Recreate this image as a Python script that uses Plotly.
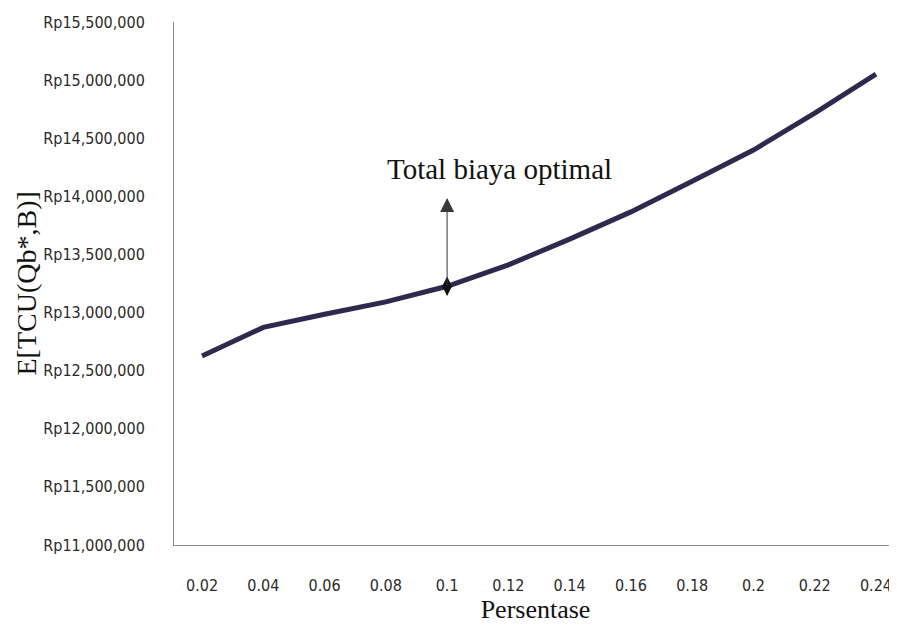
import plotly.graph_objects as go

# Data
persentase = [0.02, 0.04, 0.06, 0.08, 0.10, 0.12, 0.14, 0.16, 0.18, 0.20, 0.22, 0.24]
total_biaya = [12626000, 12872000, 12985000, 13092000, 13226000, 13410000,
               13632000, 13866000, 14130000, 14398000, 14716000, 15052000]
x_tick_labels = ["0.02", "0.04", "0.06", "0.08", "0.1", "0.12", "0.14", "0.16",
                 "0.18", "0.2", "0.22", "0.24"]
y_tick_vals = [11000000, 11500000, 12000000, 12500000, 13000000, 13500000,
               14000000, 14500000, 15000000, 15500000]
y_tick_labels = ["Rp11,000,000", "Rp11,500,000", "Rp12,000,000", "Rp12,500,000",
                 "Rp13,000,000", "Rp13,500,000", "Rp14,000,000", "Rp14,500,000",
                 "Rp15,000,000", "Rp15,500,000"]
optimal_x = 0.10
optimal_y = total_biaya[persentase.index(optimal_x)]
arrow_len = 760000          # arrow length in data units (upwards)
label_x, label_y = 0.1170, 14235000

tick_font = dict(family="Liberation Sans Narrow, DejaVu Sans Condensed, Liberation Sans",
                 size=16, color="#2a2a2a")
serif = "Liberation Serif, Times New Roman, serif"

fig = go.Figure()
fig.add_trace(go.Scatter(
    x=persentase, y=total_biaya, mode="lines",
    line=dict(color="#31284d", width=5), showlegend=False, hoverinfo="skip"))
fig.add_trace(go.Scatter(
    x=[optimal_x], y=[optimal_y], mode="markers",
    marker=dict(symbol="diamond-tall", size=14, color="#111111"),
    showlegend=False, hoverinfo="skip"))

fig.add_annotation(
    x=optimal_x, y=optimal_y + arrow_len, ax=optimal_x, ay=optimal_y,
    xref="x", yref="y", axref="x", ayref="y",
    text="", showarrow=True, arrowhead=2, arrowsize=2.8, arrowwidth=1,
    arrowcolor="#3a3a3a", standoff=0, startstandoff=0)
fig.add_annotation(
    x=label_x, y=label_y, xref="x", yref="y", text="Total biaya optimal",
    showarrow=False, font=dict(family=serif, size=29, color="#111111"))
# y-axis title as a rotated annotation, placed left of the tick labels
fig.add_annotation(
    x=0, y=0.5, xref="paper", yref="paper", xanchor="center", yanchor="middle",
    xshift=-148, text="E[TCU(Qb*,B)]", textangle=-90, showarrow=False,
    font=dict(family=serif, size=28, color="#111111"))

# page body has an 8px margin: size the figure so it fits the 897x643 window
fig.update_layout(
    width=889, height=635,
    margin=dict(l=166, r=0, t=14, b=98),
    paper_bgcolor="white", plot_bgcolor="white",
    xaxis=dict(
        range=[0.01085, 0.24686], tickvals=persentase, ticktext=x_tick_labels,
        automargin=False,
        showgrid=False, zeroline=False, showline=True, linecolor="#8a8a8a", linewidth=1,
        ticks="", ticklabelstandoff=26, tickfont=tick_font,
        title=dict(text="Persentase", font=dict(family=serif, size=26, color="#111111"),
                   standoff=4)),
    yaxis=dict(
        range=[11000000, 15500000], tickvals=y_tick_vals, ticktext=y_tick_labels,
        automargin=False,
        showgrid=False, zeroline=False, showline=True, linecolor="#8a8a8a", linewidth=1,
        ticks="", ticklabelstandoff=25, tickfont=tick_font),
)

fig.write_html("out.html")
